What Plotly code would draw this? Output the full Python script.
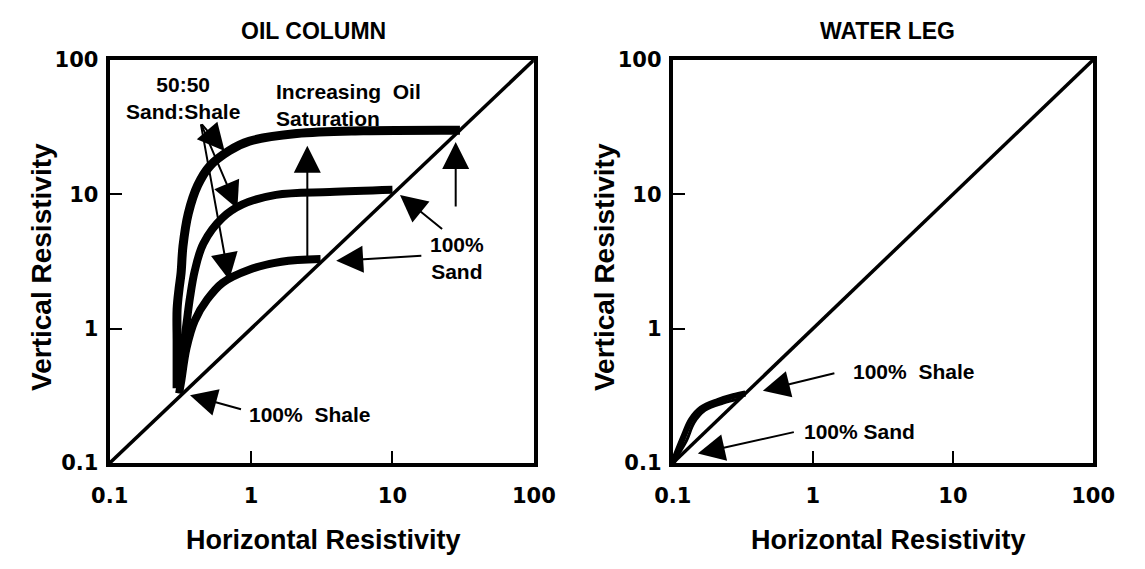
import math
import plotly.graph_objects as go

W, H = 1145, 569

# Log-axis ticks shared by both panels
tick_vals = [0.1, 1, 10, 100]
tick_text = ["0.1", "1", "10", "100"]

# 1:1 line (isotropic rock)
diag = [0.1, 100]

# OIL COLUMN: 50:50 sand/shale trends for three oil saturations
oil_high_x = [0.30, 0.30, 0.30, 0.31, 0.32, 0.33, 0.36, 0.42, 0.51, 0.70, 0.97, 2.1, 6.2, 30]
oil_high_y = [0.36, 0.8, 1.4, 2.0, 2.6, 4.1, 7.2, 11.7, 16.2, 21.1, 24.8, 28.3, 29.7, 30]
oil_mid_x = [0.31, 0.33, 0.35, 0.37, 0.40, 0.46, 0.63, 0.87, 1.5, 3.6, 10]
oil_mid_y = [0.5, 0.7, 1.1, 1.7, 2.7, 4.3, 6.7, 8.4, 9.9, 10.4, 10.8]
oil_low_x = [0.31, 0.32, 0.35, 0.40, 0.49, 0.63, 0.97, 1.64, 3.1]
oil_low_y = [0.33, 0.40, 0.72, 1.15, 1.65, 2.2, 2.75, 3.15, 3.3]

# WATER LEG: shale trend (outer stroke and inner edge)
water_outer_x = [0.10, 0.12, 0.135, 0.16, 0.21, 0.27, 0.33]
water_outer_y = [0.10, 0.16, 0.21, 0.255, 0.29, 0.315, 0.33]
water_inner_x = [0.10, 0.125, 0.142, 0.171, 0.229, 0.30]
water_inner_y = [0.10, 0.146, 0.20, 0.248, 0.28, 0.30]

# Pointer arrows, (tail, tip) in data units
oil_arrows = [
    ((0.44, 34), (0.65, 21)),
    ((0.44, 34), (0.80, 7.8)),
    ((0.44, 34), (0.70, 2.3)),
    ((2.5, 3.2), (2.5, 23)),
    ((28, 7.9), (28, 24.5)),
    ((23, 5.4), (11.3, 9.9)),
    ((16.4, 3.5), (4.0, 3.2)),
    ((0.87, 0.25), (0.37, 0.32)),
]
water_arrows = [
    ((1.46, 0.47), (0.44, 0.346)),
    ((0.75, 0.171), (0.151, 0.118)),
]

# Callout texts: (text, x, y, anchor)
oil_labels = [
    ("50:50<br>Sand:Shale", 0.33, 52, "center"),
    ("Increasing  Oil<br>Saturation", 1.45, 46, "left"),
    ("100%<br>Sand", 28.4, 3.35, "center"),
    ("100%  Shale", 0.94, 0.23, "left"),
]
water_labels = [
    ("100%  Shale", 1.87, 0.48, "left"),
    ("100% Sand", 0.84, 0.171, "left"),
]

BLACK = "black"
label_font = dict(family="Liberation Sans, Arial, sans-serif", size=21, color=BLACK, weight="bold")

fig = go.Figure()


def add_line(x, y, width, xa, ya):
    fig.add_trace(go.Scatter(
        x=x, y=y, mode="lines", xaxis=xa, yaxis=ya,
        line=dict(color=BLACK, width=width, shape="spline", smoothing=1.0),
        hoverinfo="skip", showlegend=False,
    ))


add_line(diag, diag, 3.5, "x", "y")
add_line(oil_high_x, oil_high_y, 9, "x", "y")
add_line(oil_mid_x, oil_mid_y, 8, "x", "y")
add_line(oil_low_x, oil_low_y, 8, "x", "y")

add_line(diag, diag, 3.5, "x2", "y2")
add_line(water_outer_x, water_outer_y, 6, "x2", "y2")
add_line(water_inner_x, water_inner_y, 3, "x2", "y2")

annotations = []


def add_arrows(arrows, xr, yr):
    for (tx, ty), (hx, hy) in arrows:
        annotations.append(dict(
            x=math.log10(hx), y=math.log10(hy),
            ax=math.log10(tx), ay=math.log10(ty),
            xref=xr, yref=yr, axref=xr, ayref=yr,
            text="", showarrow=True, arrowhead=2, arrowsize=2.7,
            arrowwidth=2, arrowcolor=BLACK, standoff=0,
        ))


def add_labels(labels, xr, yr):
    for text, x, y, anchor in labels:
        annotations.append(dict(
            x=math.log10(x), y=math.log10(y), xref=xr, yref=yr,
            text=text, showarrow=False, xanchor=anchor, yanchor="middle",
            align=anchor, font=label_font,
        ))


add_arrows(oil_arrows, "x", "y")
add_arrows(water_arrows, "x2", "y2")
add_labels(oil_labels, "x", "y")
add_labels(water_labels, "x2", "y2")

title_font = dict(family="Liberation Sans, Arial, sans-serif", size=23, color=BLACK, weight="bold")
xtitle_font = dict(family="Liberation Sans, Arial, sans-serif", size=27, color=BLACK, weight="bold")
ytitle_font = dict(family="Liberation Sans, Arial, sans-serif", size=28, color=BLACK, weight="bold")

# Panel titles and axis titles
for text, px, py in [("OIL COLUMN", 305, 20), ("WATER LEG", 901, 20)]:
    annotations.append(dict(text=text, x=px / W, y=1 - py / H, xref="paper", yref="paper",
                            showarrow=False, xanchor="center", yanchor="middle", font=title_font))
for px in (316, 902):
    annotations.append(dict(text="Horizontal Resistivity", x=px / W, y=1 - 551 / H,
                            xref="paper", yref="paper", showarrow=False,
                            xanchor="center", yanchor="middle", font=xtitle_font))
for px in (24, 608):
    annotations.append(dict(text="Vertical Resistivity", x=px / W, y=1 - 266 / H,
                            xref="paper", yref="paper", showarrow=False, textangle=-90,
                            xanchor="center", yanchor="middle", font=ytitle_font))

tick_font = dict(family="DejaVu Sans, sans-serif", size=21, color=BLACK, weight="bold")


def log_axis(domain, anchor, standoff):
    return dict(
        type="log", range=[-1, 2], domain=domain, anchor=anchor,
        tickmode="array", tickvals=tick_vals, ticktext=tick_text,
        ticks="inside", ticklen=12, tickwidth=2, tickcolor=BLACK,
        showline=True, linewidth=4, linecolor=BLACK, mirror=True,
        showgrid=False, zeroline=False, tickfont=tick_font,
        ticklabelstandoff=standoff, fixedrange=True,
    )


y_dom = [1 - 471 / H, 1 - 50 / H]
fig.update_layout(
    width=W, height=H,
    margin=dict(l=0, r=0, t=0, b=0),
    paper_bgcolor="white", plot_bgcolor="white",
    showlegend=False,
    xaxis=log_axis([94 / W, 534 / W], "y", 11),
    yaxis=log_axis(y_dom, "x", 3),
    xaxis2=log_axis([678 / W, 1114 / W], "y2", 11),
    yaxis2=log_axis(y_dom, "x2", 3),
    annotations=annotations,
)

fig.write_html("out.html")
